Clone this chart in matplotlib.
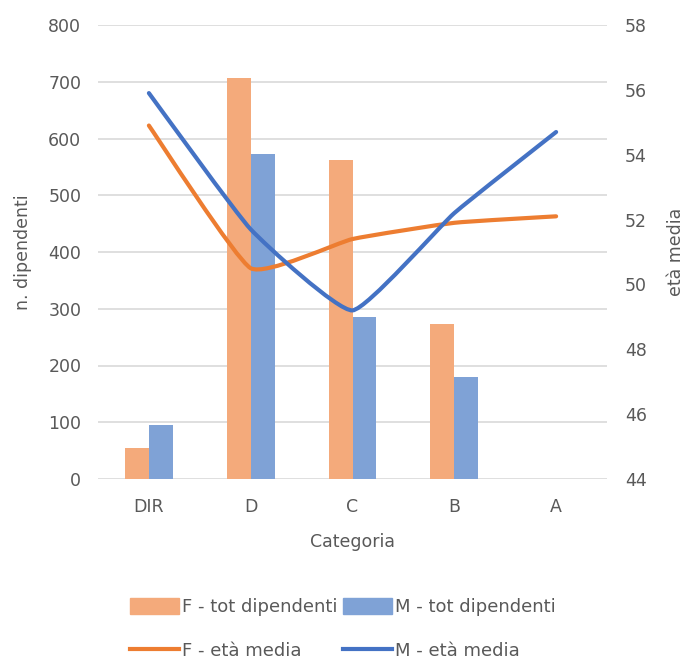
import matplotlib
matplotlib.use("Agg")
import matplotlib.pyplot as plt
import numpy as np
from matplotlib.path import Path
from matplotlib.patches import PathPatch
from matplotlib.lines import Line2D
from matplotlib.patches import Patch

categories = ["DIR", "D", "C", "B", "A"]
f_tot = [55, 706, 562, 273, 0]
m_tot = [95, 573, 285, 180, 0]
f_eta = [54.9, 50.5, 51.4, 51.9, 52.1]
m_eta = [55.9, 51.7, 49.2, 52.2, 54.7]

c_fbar = "#F4AA7B"
c_mbar = "#7FA2D6"
c_fline = "#ED7D31"
c_mline = "#4472C4"
txt = "#595959"
grid = "#D9D9D9"

plt.rcParams["font.family"] = ["DejaVu Sans"]

fig = plt.figure(figsize=(6.87, 6.59), dpi=100)
W, H = 687, 659
ax = fig.add_axes([98 / W, 1 - 479 / H, (607 - 98) / W, (479 - 25) / H])
ax2 = ax.twinx()

x = np.arange(len(categories))
bw = 0.235
ax.bar(x - bw / 2, f_tot, bw, color=c_fbar, zorder=2)
ax.bar(x + bw / 2, m_tot, bw, color=c_mbar, zorder=2)
ax.set_ylim(0, 800)
ax.set_xlim(-0.5, len(categories) - 0.5)
ax.set_yticks(range(0, 801, 100))
ax.set_xticks(x)
ax.set_xticklabels(categories)
ax.yaxis.grid(True, color=grid, linewidth=1.2, zorder=0)
ax.set_axisbelow(True)
for s in ax.spines.values():
    s.set_visible(False)
for s in ax2.spines.values():
    s.set_visible(False)
ax.tick_params(axis="y", length=0, colors=txt, labelsize=12.5, pad=12)
ax.tick_params(axis="x", length=0, colors=txt, labelsize=12.5, pad=14)
ax2.tick_params(length=0, colors=txt, labelsize=12.5, pad=13)
ax2.set_ylim(44, 58)
ax2.set_yticks(range(44, 59, 2))


def smooth_path(xs, ys, t=1 / 14):
    pts = list(zip(xs, ys))
    verts = [pts[0]]
    codes = [Path.MOVETO]
    n = len(pts)
    for i in range(n - 1):
        p0 = pts[i - 1] if i > 0 else pts[i]
        p1 = pts[i]
        p2 = pts[i + 1]
        p3 = pts[i + 2] if i + 2 < n else pts[i + 1]
        c1 = (p1[0] + (p2[0] - p0[0]) * t, p1[1] + (p2[1] - p0[1]) * t)
        c2 = (p2[0] - (p3[0] - p1[0]) * t, p2[1] - (p3[1] - p1[1]) * t)
        verts += [c1, c2, p2]
        codes += [Path.CURVE4] * 3
    return Path(verts, codes)


for ys, col in [(f_eta, c_fline), (m_eta, c_mline)]:
    ax2.add_patch(PathPatch(smooth_path(x, ys), facecolor="none", edgecolor=col,
                            linewidth=3, capstyle="round", joinstyle="round", zorder=3))

ax.set_ylabel("n. dipendenti", color=txt, fontsize=12.5, labelpad=12)
ax2.set_ylabel("età media", color=txt, fontsize=12.5, labelpad=14)
ax.set_xlabel("Categoria", color=txt, fontsize=12.5, labelpad=12)

handles = [Patch(color=c_fbar), Line2D([0], [0], color=c_fline, lw=3),
           Patch(color=c_mbar), Line2D([0], [0], color=c_mline, lw=3)]
labels = ["F - tot dipendenti", "F - età media", "M - tot dipendenti", "M - età media"]
leg = fig.legend(handles, labels, ncol=2, loc="center", bbox_to_anchor=(343 / W, 1 - 629 / H),
                 frameon=False, fontsize=13, handlelength=2.7, handleheight=1.0,
                 columnspacing=0.3, labelspacing=1.4, handletextpad=0.2)
for t in leg.get_texts():
    t.set_color(txt)

fig.savefig("out.png", dpi=100)
